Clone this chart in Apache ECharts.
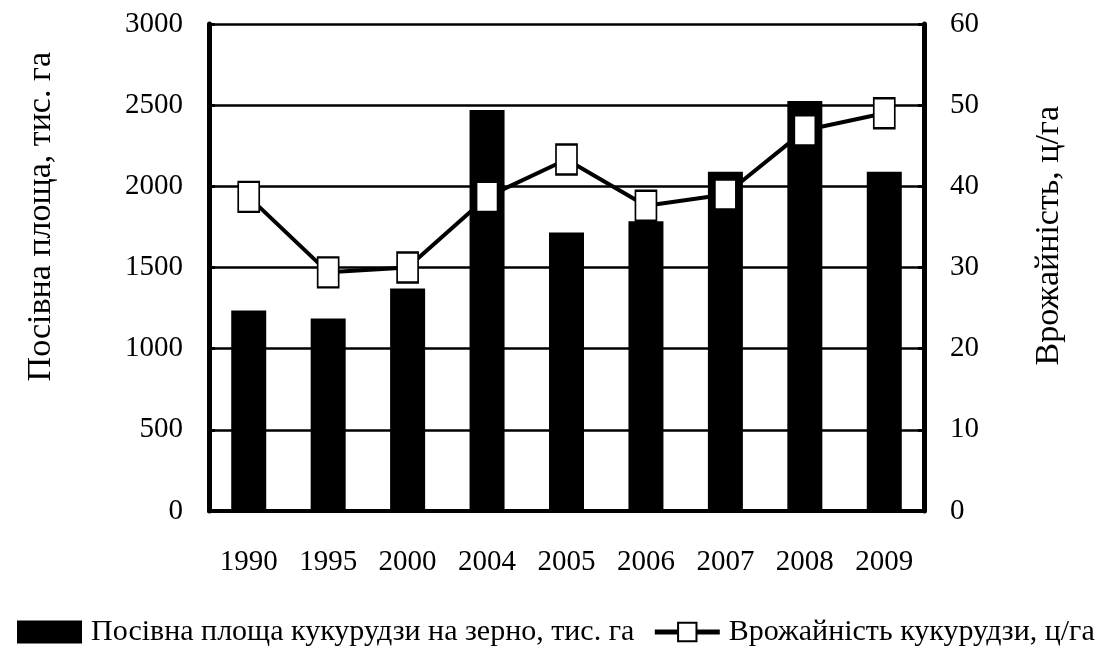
<!DOCTYPE html>
<html>
<head>
<meta charset="utf-8">
<script src="https://cdn.jsdelivr.net/npm/echarts@6/dist/echarts.min.js"></script>
<style>
  html, body { margin: 0; padding: 0; background: #fff; }
  #chart { width: 1107px; height: 651px; }
</style>
</head>
<body>
<div id="chart"></div>
<script>
var years = ['1990', '1995', '2000', '2004', '2005', '2006', '2007', '2008', '2009'];
// посівна площа, тис. га
var area = [1235, 1186, 1370, 2470, 1715, 1785, 2090, 2525, 2090];
// врожайність, ц/га
var yieldV = [38.7, 29.4, 30.0, 38.7, 43.3, 37.6, 39.0, 46.9, 49.0];

var areaName = 'Посівна площа кукурудзи на зерно, тис. га';
var yieldName = 'Врожайність кукурудзи, ц/га';

var font = '"Liberation Serif", "DejaVu Serif", serif';

var dom = echarts.init(document.getElementById('chart'));

function plain(v) { return String(v); }

var option = {
  backgroundColor: '#fff',
  textStyle: { fontFamily: font, color: '#000' },
  animation: false,
  grid: { left: 209, right: 183, top: 24, bottom: 140 },
  legend: {
    left: 12,
    top: 612,
    itemGap: 18,
    itemWidth: 65,
    itemHeight: 23,
    textStyle: { fontFamily: font, fontSize: 30, color: '#000', padding: [0, 0, 0, 4] },
    data: [
      { name: areaName, icon: 'rect' },
      {
        name: yieldName,
        lineStyle: { color: '#000', width: 5 },
        itemStyle: { color: '#fff', borderColor: '#000', borderWidth: 2 }
      }
    ]
  },
  graphic: [
    {
      type: 'text', left: 24, top: 52, rotation: Math.PI / 2,
      style: { text: 'Посівна площа, тис. га', font: '34px ' + font, fill: '#000' }
    },
    {
      type: 'text', left: 1032, top: 106, rotation: Math.PI / 2,
      style: { text: 'Врожайність, ц/га', font: '34px ' + font, fill: '#000' }
    }
  ],
  xAxis: {
    type: 'category',
    data: years,
    axisLine: { lineStyle: { color: '#000', width: 4 } },
    axisTick: { inside: true, length: 10, lineStyle: { color: '#000', width: 3 } },
    axisLabel: { color: '#000', fontSize: 29, fontFamily: font, margin: 37 }
  },
  yAxis: [
    {
      type: 'value', min: 0, max: 3000, interval: 500,
      axisLine: { show: true, lineStyle: { color: '#000', width: 5 } },
      axisTick: { show: true, inside: true, length: 6, lineStyle: { color: '#000', width: 3 } },
      axisLabel: { color: '#000', fontSize: 29, fontFamily: font, margin: 26, formatter: plain },
      splitLine: { lineStyle: { color: '#000', width: 2.5 } }
    },
    {
      type: 'value', min: 0, max: 60, interval: 10,
      axisLine: { show: true, lineStyle: { color: '#000', width: 5 } },
      axisTick: { show: true, inside: true, length: 6, lineStyle: { color: '#000', width: 3 } },
      axisLabel: { color: '#000', fontSize: 29, fontFamily: font, margin: 26, formatter: plain },
      splitLine: { show: false }
    }
  ],
  series: [
    {
      name: areaName,
      type: 'bar',
      data: area,
      barWidth: 35,
      itemStyle: { color: '#000' }
    },
    {
      name: yieldName,
      type: 'line',
      yAxisIndex: 1,
      data: yieldV,
      z: 5,
      symbol: 'rect',
      symbolSize: [21, 30],
      lineStyle: { color: '#000', width: 4 },
      itemStyle: { color: '#fff', borderColor: '#000', borderWidth: 2 }
    }
  ]
};

dom.setOption(option);
</script>
</body>
</html>
